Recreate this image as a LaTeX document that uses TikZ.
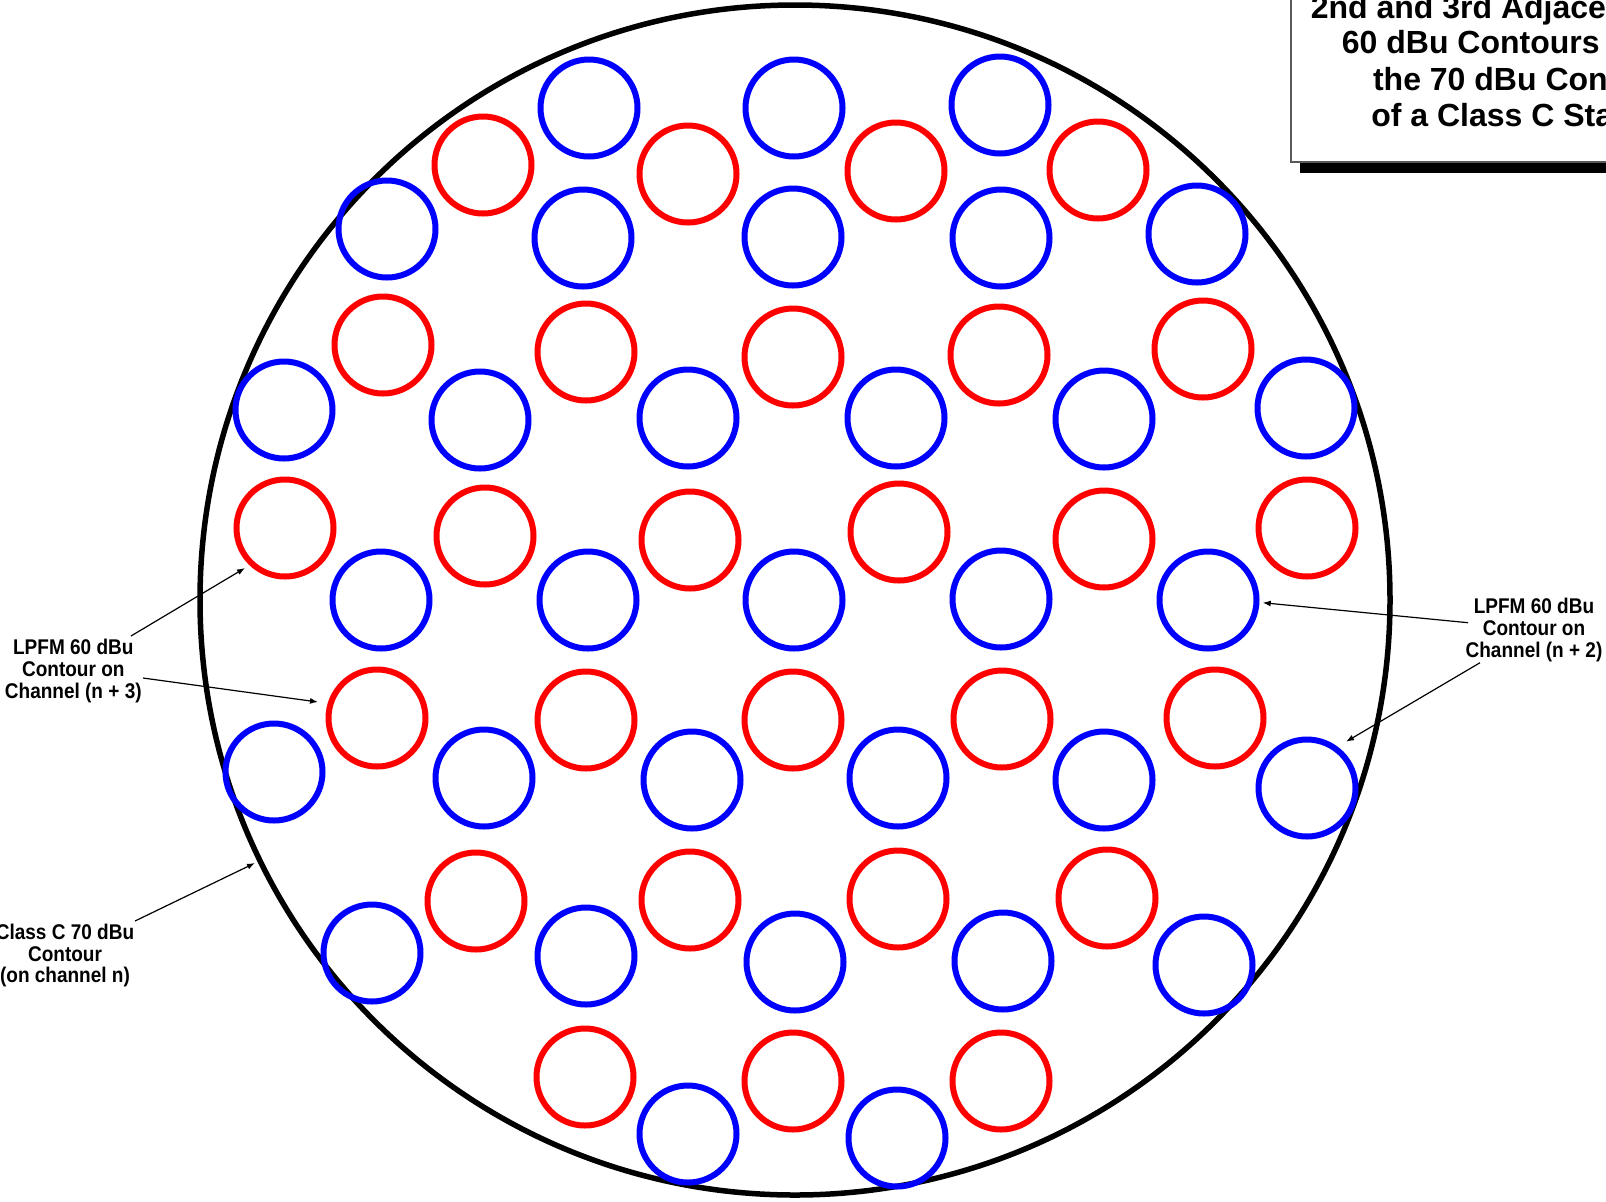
\documentclass[tikz,border=0pt]{standalone}
\usepackage{fontspec}
\setmainfont{Liberation Sans}
\usetikzlibrary{arrows.meta}
\definecolor{cred}{RGB}{255,0,0}
\definecolor{cblue}{RGB}{0,0,255}
\newcommand{\labtxt}[1]{\scalebox{1}[1.12]{#1}}
\begin{document}
\begin{tikzpicture}[x=0.5pt,y=-0.5pt,
  rc/.style={circle,draw=cred,line width=3pt,minimum size=48.5pt,inner sep=0pt},
  bc/.style={circle,draw=cblue,line width=3pt,minimum size=48.5pt,inner sep=0pt},
  lab/.style={anchor=base,inner sep=0pt,font=\fontsize{9.5pt}{11pt}\selectfont\bfseries},
  ttl/.style={anchor=base,inner sep=0pt,font=\fontsize{16pt}{18pt}\selectfont\bfseries},
  arr/.style={line width=0.6pt,-{Latex[length=4pt,width=3pt]}}]
\useasboundingbox (0,0) rectangle (1606,1201);
% big contour
\node[circle,draw=black,line width=2.75pt,minimum size=595pt,inner sep=0pt] (big) at (795,600) {};
% row 1
\node[bc] (b1) at (589,108) {};
\node[bc] (b2) at (794,108) {};
\node[bc] (b3) at (1000,105) {};
% row 2
\node[rc] (r1) at (483,165) {};
\node[rc] (r2) at (688,174) {};
\node[rc] (r3) at (896,171) {};
\node[rc] (r4) at (1098,170) {};
% row 3
\node[bc] (b4) at (387,229) {};
\node[bc] (b5) at (583,238) {};
\node[bc] (b6) at (793,237) {};
\node[bc] (b7) at (1001,238) {};
\node[bc] (b8) at (1197,234) {};
% row 4
\node[rc] (r5) at (383,345) {};
\node[rc] (r6) at (586,352) {};
\node[rc] (r7) at (793,357) {};
\node[rc] (r8) at (999,355) {};
\node[rc] (r9) at (1203,349) {};
% row 5
\node[bc] (b9) at (284,410) {};
\node[bc] (b10) at (480,420) {};
\node[bc] (b11) at (688,418) {};
\node[bc] (b12) at (896,418) {};
\node[bc] (b13) at (1104,419) {};
\node[bc] (b14) at (1306,408) {};
% row 6
\node[rc] (r10) at (285,528) {};
\node[rc] (r11) at (485,536) {};
\node[rc] (r12) at (690,540) {};
\node[rc] (r13) at (899,532) {};
\node[rc] (r14) at (1104,539) {};
\node[rc] (r15) at (1307,528) {};
% row 7
\node[bc] (b15) at (381,600) {};
\node[bc] (b16) at (588,600) {};
\node[bc] (b17) at (794,600) {};
\node[bc] (b18) at (1001,599) {};
\node[bc] (b19) at (1208,600) {};
% row 8
\node[rc] (r16) at (377,718) {};
\node[rc] (r17) at (586,720) {};
\node[rc] (r18) at (793,720) {};
\node[rc] (r19) at (1002,719) {};
\node[rc] (r20) at (1215,718) {};
% row 9
\node[bc] (b20) at (274,772) {};
\node[bc] (b21) at (484,778) {};
\node[bc] (b22) at (692,780) {};
\node[bc] (b23) at (898,778) {};
\node[bc] (b24) at (1104,780) {};
\node[bc] (b25) at (1307,788) {};
% row 10
\node[rc] (r21) at (476,901) {};
\node[rc] (r22) at (690,900) {};
\node[rc] (r23) at (898,899) {};
\node[rc] (r24) at (1107,898) {};
% row 11
\node[bc] (b26) at (372,953) {};
\node[bc] (b27) at (586,956) {};
\node[bc] (b28) at (795,962) {};
\node[bc] (b29) at (1003,961) {};
\node[bc] (b30) at (1204,965) {};
% row 12
\node[rc] (r25) at (585,1077) {};
\node[rc] (r26) at (793,1081) {};
\node[rc] (r27) at (1001,1081) {};
% row 13
\node[bc] (b31) at (688,1134) {};
\node[bc] (b32) at (897,1138) {};
% title box with shadow
\fill[black] (1300,-60) rectangle (1720,173);
\draw[draw=black!65,line width=0.75pt,fill=white] (1291,-70) rectangle (1711,162);
\node[ttl] (t1) at (1521.5,18) {2nd and 3rd Adjacent LPFM};
\node[ttl] (t2) at (1521.5,53.5) {60 dBu Contours Inside};
\node[ttl] (t3) at (1521.5,90) {the 70 dBu Contour};
\node[ttl] (t4) at (1521.5,126) {of a Class C Station};
% left label (n+3)
\node[lab] (l1a) at (73.3,654) {\labtxt{LPFM 60 dBu}};
\node[lab] (l1b) at (73.3,676) {\labtxt{Contour on}};
\node[lab] (l1c) at (73.3,698) {\labtxt{Channel (n + 3)}};
% right label (n+2)
\node[lab] (l2a) at (1534,613) {\labtxt{LPFM 60 dBu}};
\node[lab] (l2b) at (1534,635) {\labtxt{Contour on}};
\node[lab] (l2c) at (1534,657) {\labtxt{Channel (n + 2)}};
% class C label
\node[lab] (l3a) at (65,939) {\labtxt{Class C 70 dBu}};
\node[lab] (l3b) at (65,961) {\labtxt{Contour}};
\node[lab] (l3c) at (65,982) {\labtxt{(on channel n)}};
% arrow end points
\coordinate (s1) at (131,636);  \coordinate (e1) at (245,568);
\coordinate (s2) at (143,678);  \coordinate (e2) at (318,702);
\coordinate (s3) at (135,921);  \coordinate (e3) at (255,863);
\coordinate (s4) at (1468,622.7); \coordinate (e4) at (1262.7,602.7);
\coordinate (s5) at (1480,662.7); \coordinate (e5) at (1346,741.7);
\draw[arr] (s1) -- (e1);
\draw[arr] (s2) -- (e2);
\draw[arr] (s3) -- (e3);
\draw[arr] (s4) -- (e4);
\draw[arr] (s5) -- (e5);
\end{tikzpicture}
\end{document}
